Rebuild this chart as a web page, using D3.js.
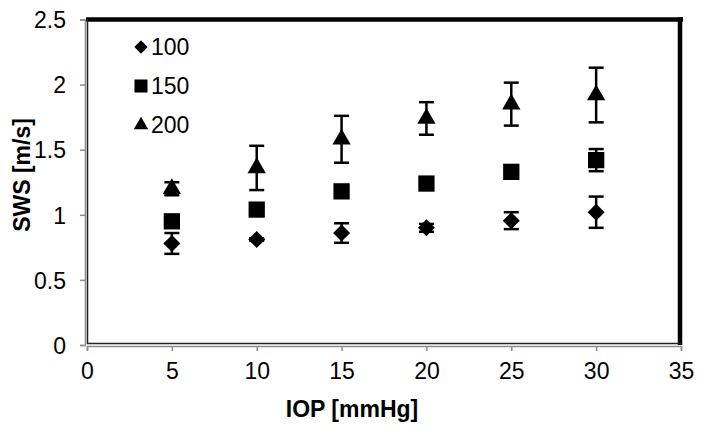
<!DOCTYPE html>
<html>
<head>
<meta charset="utf-8">
<script src="https://cdn.jsdelivr.net/npm/d3@7"></script>
<style>
  body { margin: 0; background: #fff; }
  text { font-family: "Liberation Sans", Arial, sans-serif; fill: #000; }
</style>
</head>
<body>
<div id="container"></div>
<script>
// data
var iop = [5, 10, 15, 20, 25, 30];
var sws100 = [0.78, 0.81, 0.86, 0.90, 0.955, 1.02];
var err100 = [0.08, 0.01, 0.075, 0.03, 0.065, 0.12];
var sws150 = [0.95, 1.04, 1.18, 1.24, 1.33, 1.42];
var err150 = [0.02, 0.02, 0.02, 0.02, 0.02, 0.085];
var sws200 = [1.20, 1.36, 1.58, 1.74, 1.85, 1.92];
var err200 = [0.05, 0.17, 0.18, 0.125, 0.165, 0.21];
var seriesNames = ["100", "150", "200"];
var xTicks = [0, 5, 10, 15, 20, 25, 30, 35];
var yTicks = [0, 0.5, 1, 1.5, 2, 2.5];

var width = 704, height = 432;
var plot = {left: 87, right: 681, top: 19.5, bottom: 345};
var fontSize = "23px";

var svg = d3.select("#container").append("svg")
	.attr("width", width)
	.attr("height", height);

var x = d3.scaleLinear().domain([0, 35]).range([plot.left, plot.right]);
var y = d3.scaleLinear().domain([0, 2.5]).range([plot.bottom, plot.top]);

// marker shapes: diamond = rotated square
var shapes = [
	{sym: d3.symbolSquare, size: 145, rot: 45},
	{sym: d3.symbolSquare, size: 265, rot: 0},
	{sym: d3.symbolTriangle, size: 145, rot: 0}
];
var legendShapes = [
	{sym: d3.symbolSquare, size: 88, rot: 45},
	{sym: d3.symbolSquare, size: 170, rot: 0},
	{sym: d3.symbolTriangle, size: 90, rot: 0}
];

// frame: thick top and right, double line left and bottom
svg.append("line").attr("x1", plot.left - 1).attr("x2", plot.right + 2)
	.attr("y1", plot.top).attr("y2", plot.top)
	.attr("stroke", "#000").attr("stroke-width", 4.5);
svg.append("line").attr("x1", plot.right - 1).attr("x2", plot.right - 1)
	.attr("y1", plot.top - 2).attr("y2", plot.bottom)
	.attr("stroke", "#000").attr("stroke-width", 4.5);
svg.append("line").attr("x1", plot.left + 0.5).attr("x2", plot.left + 0.5)
	.attr("y1", plot.top).attr("y2", plot.bottom - 1)
	.attr("stroke", "#222").attr("stroke-width", 1.5);
svg.append("line").attr("x1", plot.left).attr("x2", plot.right)
	.attr("y1", plot.bottom - 1.5).attr("y2", plot.bottom - 1.5)
	.attr("stroke", "#222").attr("stroke-width", 1.5);

// axes (gray lines, outside ticks)
var xAxis = d3.axisBottom(x).tickValues(xTicks).tickSize(5).tickPadding(12).tickFormat(d3.format("d"));
var yAxis = d3.axisLeft(y).tickValues(yTicks).tickSize(5).tickPadding(14).tickFormat(function(d) { return String(d); });

var gx = svg.append("g")
	.attr("class", "x axis")
	.attr("transform", "translate(0," + (plot.bottom + 1) + ")")
	.call(xAxis);
var gy = svg.append("g")
	.attr("class", "y axis")
	.attr("transform", "translate(" + (plot.left - 2) + ",0)")
	.call(yAxis);

svg.selectAll(".axis path").attr("stroke", "#8c8c8c").attr("stroke-width", 1.5);
svg.selectAll(".axis line").attr("stroke", "#8c8c8c").attr("stroke-width", 1.5);
svg.selectAll(".axis text")
	.style("font-family", "'Liberation Sans', Arial, sans-serif")
	.style("font-size", fontSize)
	.attr("fill", "#000");
gy.selectAll("text").attr("dy", "0.36em");

// axis titles
svg.append("text")
	.attr("x", 352).attr("y", 417)
	.style("text-anchor", "middle")
	.style("font-size", fontSize).style("font-weight", "bold")
	.text("IOP [mmHg]");
svg.append("text")
	.attr("transform", "translate(30,175) rotate(-90)")
	.style("text-anchor", "middle")
	.style("font-size", fontSize).style("font-weight", "bold")
	.text("SWS [m/s]");

// series
var series = [
	{vals: sws100, errs: err100},
	{vals: sws150, errs: err150},
	{vals: sws200, errs: err200}
];

series.forEach(function(s, si) {
	var pts = iop.map(function(v, i) { return {x: v, y: s.vals[i], e: s.errs[i]}; });
	var g = svg.append("g").attr("class", "series s" + si);

	// error bars
	var eb = g.selectAll(".err").data(pts).enter().append("g").attr("class", "err");
	eb.append("line")
		.attr("x1", function(d) { return x(d.x); })
		.attr("x2", function(d) { return x(d.x); })
		.attr("y1", function(d) { return y(d.y - d.e); })
		.attr("y2", function(d) { return y(d.y + d.e); })
		.attr("stroke", "#000").attr("stroke-width", 2.5);
	[-1, 1].forEach(function(sgn) {
		eb.append("line")
			.attr("x1", function(d) { return x(d.x) - 7.5; })
			.attr("x2", function(d) { return x(d.x) + 7.5; })
			.attr("y1", function(d) { return y(d.y + sgn * d.e); })
			.attr("y2", function(d) { return y(d.y + sgn * d.e); })
			.attr("stroke", "#000").attr("stroke-width", 2.5);
	});

	// markers
	var sh = shapes[si];
	g.selectAll(".dot").data(pts).enter().append("path")
		.attr("class", "dot")
		.attr("d", d3.symbol().type(sh.sym).size(sh.size))
		.attr("transform", function(d) {
			return "translate(" + x(d.x) + "," + y(d.y) + ") rotate(" + sh.rot + ")";
		})
		.attr("fill", "#000");
});

// legend
var legend = svg.selectAll(".legend")
	.data(seriesNames).enter()
	.append("g")
		.attr("class", "legend")
		.attr("transform", function(d, i) { return "translate(141," + (47 + i * 39) + ")"; });

legend.append("path")
	.attr("d", function(d, i) { return d3.symbol().type(legendShapes[i].sym).size(legendShapes[i].size)(); })
	.attr("transform", function(d, i) { return "rotate(" + legendShapes[i].rot + ")"; })
	.attr("fill", "#000");

legend.append("text")
	.attr("x", 10)
	.attr("dy", "0.36em")
	.style("font-size", fontSize)
	.text(function(d) { return d; });
</script>
</body>
</html>
